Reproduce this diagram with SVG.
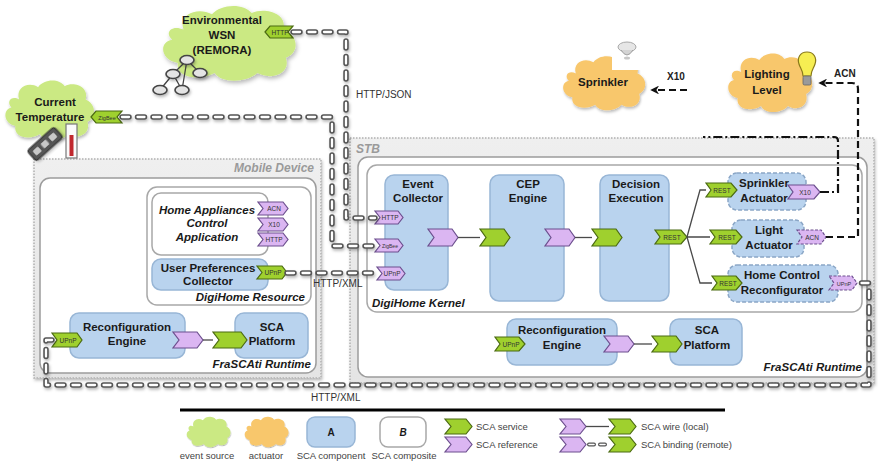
<svg xmlns="http://www.w3.org/2000/svg" xmlns:xlink="http://www.w3.org/1999/xlink" width="878" height="464" viewBox="0 0 878 464">
  <defs>
    <style>
      text { font-family: "Liberation Sans", Arial, sans-serif; }
      .t { font-size: 11.5px; font-weight: bold; fill: #1a1a1a; text-anchor: middle; }
      .ti { font-size: 11.5px; font-weight: bold; font-style: italic; fill: #1a1a1a; }
      .hdr { font-size: 12px; font-weight: bold; font-style: italic; fill: #9a9a9a; }
      .tag { font-size: 6.5px; fill: #333; text-anchor: middle; }
      .lbl { font-size: 10px; fill: #333; }
      .lblb { font-size: 10px; font-weight: bold; fill: #222; }
      .leg { font-size: 9.5px; fill: #444; }
      .cg { fill: #cbe983; }
      .co { fill: #f8c76c; }
      .comp { fill: #b9d3ee; stroke: #98b6d6; stroke-width: 1.5; }
      .compd { fill: #b9d3ee; stroke: #8aa6c6; stroke-width: 1.5; stroke-dasharray: 4 2; }
      .compo { fill: #ffffff; stroke: #a8a8a8; stroke-width: 1.5; }
      .frame { fill: #ffffff; stroke: #9c9c9c; stroke-width: 1.5; }
      .dev { fill: url(#devg); stroke: #b0b0b0; stroke-width: 1.5; stroke-dasharray: 1.5 1.5; }
      .svc { fill: #9fd02e; stroke: #4b6a12; stroke-width: 1.2; }
      .ref { fill: #dbb6f2; stroke: #6c4f8e; stroke-width: 1.2; }
      .refd { fill: #dbb6f2; stroke: #6c4f8e; stroke-width: 1.2; stroke-dasharray: 3 1.5; }
      .wire { fill: none; stroke: #4a4a4a; stroke-width: 1.3; }
      .bo { fill: none; stroke: #555; stroke-width: 5.5; stroke-dasharray: 7 8.5; stroke-linecap: round; stroke-linejoin: round; }
      .bi { fill: none; stroke: #ffffff; stroke-width: 2.3; stroke-dasharray: 7 8.5; stroke-linecap: round; stroke-linejoin: round; }
      .act { fill: none; stroke: #111; stroke-width: 2.2; stroke-dasharray: 7 4; }
      .actdd { fill: none; stroke: #111; stroke-width: 2.2; stroke-dasharray: 9 3 2 3; }
    </style>
    <linearGradient id="devg" x1="0" y1="0" x2="0" y2="1">
      <stop offset="0" stop-color="#efefef"/>
      <stop offset="1" stop-color="#e4e4e4"/>
    </linearGradient>
    <filter id="sh" x="-10%" y="-10%" width="130%" height="140%">
      <feDropShadow dx="1" dy="2" stdDeviation="1.5" flood-color="#000" flood-opacity="0.28"/>
    </filter>
    <path id="cloud" d="M18,20 C14,8 28,2 38,8 C44,0 60,-1 66,7 C76,2 92,8 88,20 C99,24 100,38 90,42 C94,54 80,60 70,54 C62,62 44,62 40,54 C30,60 12,58 14,46 C2,44 0,30 10,28 C4,22 10,16 18,20 Z"/>
    <marker id="ah" viewBox="0 0 10 10" refX="8" refY="5" markerWidth="4" markerHeight="4" orient="auto">
      <path d="M0,0 L10,5 L0,10 L3,5 Z" fill="#111"/>
    </marker>
  </defs>

  <rect width="878" height="464" fill="#ffffff"/>

  <!-- Mobile device container -->
  <g id="mobile-device">
    <rect class="dev" x="34" y="159" width="287" height="219" filter="url(#sh)"/>
    <text class="hdr" x="314" y="172" text-anchor="end">Mobile Device</text>
    <rect class="frame" x="40" y="178" width="276" height="195" rx="10"/>
    <text class="ti" x="311" y="368" text-anchor="end">FraSCAti Runtime</text>
  </g>

  <g id="digihome-resource">
    <rect class="compo" x="147" y="187" width="164" height="118" rx="10"/>
    <text class="ti" x="305" y="301" text-anchor="end">DigiHome Resource</text>
  </g>

  <g id="home-appliances">
    <rect class="compo" x="152" y="193" width="116" height="62" rx="9"/>
    <text class="ti" x="207" y="214" text-anchor="middle">Home Appliances</text>
    <text class="ti" x="207" y="227" text-anchor="middle">Control</text>
    <text class="ti" x="207" y="241" text-anchor="middle">Application</text>
    <path class="ref" d="M258,202 H283 L288,208.5 L283,215 H258 L263,208.5 Z"/>
    <text class="tag" x="274" y="211">ACN</text>
    <path class="ref" d="M258,218 H283 L288,224.5 L283,231 H258 L263,224.5 Z"/>
    <text class="tag" x="274" y="227">X10</text>
    <path class="ref" d="M258,233 H283 L288,239.5 L283,246 H258 L263,239.5 Z"/>
    <text class="tag" x="274" y="242">HTTP</text>
  </g>

  <g id="user-preferences">
    <rect class="comp" x="152" y="259" width="116" height="31" rx="9"/>
    <text class="t" x="208" y="272">User Preferences</text>
    <text class="t" x="208" y="285">Collector</text>
    <path class="svc" d="M257,266 H282 L287,272.5 L282,279 H257 L262,272.5 Z"/>
    <text class="tag" x="273" y="275">UPnP</text>
  </g>

  <g id="mobile-reconfiguration-engine">
    <rect class="comp" x="70" y="313" width="115" height="45" rx="9"/>
    <text class="t" x="127" y="331">Reconfiguration</text>
    <text class="t" x="127" y="345">Engine</text>
    <path class="svc" d="M52,333 H77 L82,340 L77,347 H52 L57,340 Z"/>
    <text class="tag" x="68" y="342.5">UPnP</text>
    <path class="ref" d="M173,332 H197 L203,340 L197,348 H173 L179,340 Z"/>
  </g>

  <g id="mobile-sca-platform">
    <rect class="comp" x="235" y="313" width="73" height="45" rx="9"/>
    <text class="t" x="272" y="331">SCA</text>
    <text class="t" x="272" y="345">Platform</text>
    <path class="svc" d="M213,332 H241 L247,340 L241,348 H213 L219,340 Z"/>
  </g>

  <!-- Set-top box container -->
  <g id="stb">
    <rect class="dev" x="350" y="138" width="524" height="245" filter="url(#sh)"/>
    <text class="hdr" x="356" y="153">STB</text>
    <rect class="frame" x="358" y="157" width="509" height="220" rx="10"/>
    <text class="ti" x="862" y="371" text-anchor="end">FraSCAti Runtime</text>
  </g>

  <g id="digihome-kernel">
    <rect class="compo" x="367" y="165" width="495" height="147" rx="10"/>
    <text class="ti" x="372" y="307">DigiHome Kernel</text>
  </g>

  <g id="event-collector">
    <rect class="comp" x="385" y="175" width="63" height="115" rx="9"/>
    <text class="t" x="418" y="188">Event</text>
    <text class="t" x="418" y="202">Collector</text>
    <path class="ref" d="M375,211 H398 L403,217.5 L398,224 H375 L380,217.5 Z"/>
    <text class="tag" x="390" y="220">HTTP</text>
    <path class="ref" d="M375,239 H398 L403,245.5 L398,252 H375 L380,245.5 Z"/>
    <text class="tag" x="390" y="248" style="font-size:5px">ZigBee</text>
    <path class="ref" d="M377,267 H400 L405,273.5 L400,280 H377 L382,273.5 Z"/>
    <text class="tag" x="392" y="276">UPnP</text>
    <path class="ref" d="M428,229 H452 L458,237.5 L452,246 H428 L434,237.5 Z"/>
  </g>

  <g id="cep-engine">
    <rect class="comp" x="490" y="175" width="74" height="126" rx="9"/>
    <text class="t" x="528" y="188">CEP</text>
    <text class="t" x="528" y="202">Engine</text>
    <path class="svc" d="M480,229 H504 L510,237.5 L504,246 H480 L486,237.5 Z"/>
    <path class="ref" d="M545,229 H569 L575,237.5 L569,246 H545 L551,237.5 Z"/>
  </g>

  <g id="decision-execution">
    <rect class="comp" x="600" y="175" width="69" height="126" rx="9"/>
    <text class="t" x="636" y="188">Decision</text>
    <text class="t" x="636" y="202">Execution</text>
    <path class="svc" d="M592,229 H616 L622,237.5 L616,246 H592 L598,237.5 Z"/>
    <path class="svc" d="M655,230 H681 L687,237 L681,244 H655 L660,237 Z"/>
    <text class="tag" x="672" y="239.5">REST</text>
  </g>

  <g id="sprinkler-actuator">
    <rect class="compd" x="728" y="173" width="78" height="37" rx="9"/>
    <text class="t" x="764" y="187">Sprinkler</text>
    <text class="t" x="764" y="202">Actuator</text>
    <path class="svc" d="M706,183 H731 L737,190 L731,197 H706 L711,190 Z"/>
    <text class="tag" x="722" y="192.5">REST</text>
    <path class="ref" d="M788,185 H814 L820,192 L814,199 H788 L793,192 Z"/>
    <text class="tag" x="805" y="194.5">X10</text>
  </g>

  <g id="light-actuator">
    <rect class="compd" x="732" y="220" width="72" height="37" rx="9"/>
    <text class="t" x="769" y="234">Light</text>
    <text class="t" x="769" y="249">Actuator</text>
    <path class="svc" d="M710,230 H736 L742,237 L736,244 H710 L715,237 Z"/>
    <text class="tag" x="727" y="239.5">REST</text>
    <path class="refd" d="M797,230 H821 L826,237 L821,244 H797 L802,237 Z"/>
    <text class="tag" x="812" y="239.5">ACN</text>
  </g>

  <g id="home-control-reconfigurator">
    <rect class="compd" x="728" y="265" width="110" height="37" rx="9"/>
    <text class="t" x="782" y="279">Home Control</text>
    <text class="t" x="782" y="294">Reconfigurator</text>
    <path class="svc" d="M712,276 H736 L742,283 L736,290 H712 L717,283 Z"/>
    <text class="tag" x="728" y="285.5">REST</text>
    <path class="refd" d="M829,276 H852 L857,283 L852,290 H829 L834,283 Z"/>
    <text class="tag" x="844" y="285.5" style="font-size:5.5px">UPnP</text>
  </g>

  <g id="stb-reconfiguration-engine">
    <rect class="comp" x="507" y="319" width="110" height="46" rx="9"/>
    <text class="t" x="562" y="334">Reconfiguration</text>
    <text class="t" x="562" y="349">Engine</text>
    <path class="svc" d="M495,337 H519 L525,344 L519,351 H495 L500,344 Z"/>
    <text class="tag" x="511" y="346.5">UPnP</text>
    <path class="ref" d="M604,336 H628 L634,344 L628,352 H604 L610,344 Z"/>
  </g>

  <g id="stb-sca-platform">
    <rect class="comp" x="670" y="319" width="72" height="46" rx="9"/>
    <text class="t" x="707" y="334">SCA</text>
    <text class="t" x="707" y="349">Platform</text>
    <path class="svc" d="M652,336 H676 L682,344 L676,352 H652 L658,344 Z"/>
  </g>

  <!-- Event sources -->
  <g id="environmental-wsn">
    <use xlink:href="#cloud" href="#cloud" class="cg" filter="url(#sh)" transform="translate(158,4) scale(1.42,1.28)"/>
    <text class="t" x="222" y="24">Environmental</text>
    <text class="t" x="222" y="39">WSN</text>
    <text class="t" x="222" y="54">(REMORA)</text>
    <g stroke="#444" stroke-width="1.3" fill="none">
      <path d="M187,60 L173,74 L160,90 M173,74 L182,90 M187,60 L200,73 M187,60 L182,90"/>
    </g>
    <g fill="#e4e4e4" stroke="#444" stroke-width="1.6" filter="url(#sh)">
      <ellipse cx="187" cy="60" rx="7" ry="4.5"/>
      <ellipse cx="173" cy="74" rx="7" ry="4.5"/>
      <ellipse cx="200" cy="73" rx="7" ry="4.5"/>
      <ellipse cx="160" cy="90" rx="7" ry="4.5"/>
      <ellipse cx="182" cy="90" rx="7" ry="4.5"/>
    </g>
    <path class="svc" d="M265,32 L270,26 H293 L288,32 L293,38 H270 Z"/>
    <text class="tag" x="280" y="34.5">HTTP</text>
  </g>

  <g id="current-temperature">
    <use xlink:href="#cloud" href="#cloud" class="cg" filter="url(#sh)" transform="translate(2,79) scale(0.95,1.02)"/>
    <text class="t" x="55" y="106">Current</text>
    <text class="t" x="50" y="121">Temperature</text>
    <path class="svc" d="M91,117 L96,111 H122 L117,117 L122,123 H96 Z"/>
    <text class="tag" x="107" y="119.5" style="font-size:5.5px">ZigBee</text>
    <g transform="rotate(-42 45 144)" filter="url(#sh)">
      <rect x="27" y="137" width="36" height="14" rx="3" fill="#555" stroke="#2e2e2e" stroke-width="1.2"/>
      <rect x="31" y="141" width="7" height="6" rx="1" fill="#c8c8c8"/>
      <rect x="41.5" y="141" width="7" height="6" rx="1" fill="#c8c8c8"/>
      <rect x="52" y="141" width="7" height="6" rx="1" fill="#c8c8c8"/>
    </g>
    <rect x="66" y="124" width="11" height="34" fill="#fafafa" stroke="#777" stroke-width="1.2"/>
    <rect x="69.5" y="135" width="4" height="21" fill="#c0282e"/>
  </g>

  <!-- Actuators -->
  <g id="sprinkler">
    <use xlink:href="#cloud" href="#cloud" class="co" filter="url(#sh)" transform="translate(560,55) scale(0.88,0.92)"/>
    <rect x="612" y="40" width="32" height="30" fill="#ffffff"/>
    <ellipse cx="627" cy="47" rx="9" ry="5" fill="#e6e6e6" stroke="#a8a8a8"/>
    <path d="M621,50 Q627,60 633,50" fill="#d4d4d4" stroke="#a0a0a0"/>
    <ellipse cx="627" cy="58" rx="3" ry="1.5" fill="#c8c8c8"/>
    <text class="t" x="603" y="86">Sprinkler</text>
  </g>

  <g id="lighting-level">
    <use xlink:href="#cloud" href="#cloud" class="co" filter="url(#sh)" transform="translate(725,52) scale(0.9,1.0)"/>
    <text class="t" x="767" y="78">Lighting</text>
    <text class="t" x="767" y="94">Level</text>
    <path d="M807,52 C800,52 797,58 799,64 C800,68 803,70 803,76 H811 C811,70 814,68 815,64 C817,58 814,52 807,52 Z" fill="#f6ee52" stroke="#8a7a1a" stroke-width="1.2"/>
    <rect x="803" y="76" width="8" height="9" rx="1.5" fill="#9a9a9a" stroke="#666" stroke-width="0.8"/>
  </g>

  <!-- Connectors: remote bindings, local wires, actuator links -->
  <g id="connectors">
    <g filter="url(#sh)">
      <path class="bo" d="M293,32 H346 V218 H375"/>
      <path class="bo" d="M122,117 H332 V246 H375"/>
      <path class="bo" d="M287,273 H377"/>
      <path class="bo" d="M52,340 H46 V385 H869 V283 H857"/>
    </g>
    <path class="bi" d="M293,32 H346 V218 H375"/>
    <path class="bi" d="M122,117 H332 V246 H375"/>
    <path class="bi" d="M287,273 H377"/>
    <path class="bi" d="M52,340 H46 V385 H869 V283 H857"/>

    <path class="wire" d="M203,340 H213"/>
    <path class="wire" d="M458,237.5 H480"/>
    <path class="wire" d="M575,237.5 H592"/>
    <path class="wire" d="M687,237 L700,190 H706 M687,237 H710 M687,237 L700,283 H712"/>
    <path class="wire" d="M634,344 H652"/>

    <path class="actdd" d="M820,192 H838 V141 Q838,137 834,137 H703"/>
    <path class="act" d="M826,237 H858 V89 Q858,83 852,83 H820" marker-end="url(#ah)"/>
    <path class="act" d="M687,90 H652" marker-end="url(#ah)"/>

    <text class="lbl" x="356" y="98">HTTP/JSON</text>
    <text class="lbl" x="313" y="287">HTTP/XML</text>
    <text class="lbl" x="311" y="401">HTTP/XML</text>
    <text class="lblb" x="667" y="80">X10</text>
    <text class="lblb" x="834" y="77">ACN</text>
  </g>

  <!-- Legend -->
  <g id="legend">
    <path d="M180,410 H725" stroke="#000" stroke-width="3"/>
    <use xlink:href="#cloud" href="#cloud" class="cg" filter="url(#sh)" transform="translate(185,416) scale(0.47,0.52)"/>
    <use xlink:href="#cloud" href="#cloud" class="co" filter="url(#sh)" transform="translate(243,416) scale(0.47,0.52)"/>
    <rect class="comp" x="307" y="417" width="48" height="30" rx="8"/>
    <text class="t" x="331" y="436" style="font-size:10px">A</text>
    <rect class="compo" x="380" y="417" width="46" height="30" rx="8"/>
    <text class="ti" x="403" y="436" text-anchor="middle" style="font-size:10px">B</text>
    <text class="leg" x="207" y="459" text-anchor="middle">event source</text>
    <text class="leg" x="266" y="459" text-anchor="middle">actuator</text>
    <text class="leg" x="331" y="459" text-anchor="middle">SCA component</text>
    <text class="leg" x="404" y="459" text-anchor="middle">SCA composite</text>

    <path class="svc" d="M445,419 H466 L472,426.5 L466,434 H445 L451,426.5 Z"/>
    <text class="leg" x="476" y="430">SCA service</text>
    <path class="ref" d="M445,437 H466 L472,444.5 L466,452 H445 L451,444.5 Z"/>
    <text class="leg" x="476" y="448">SCA reference</text>

    <path class="ref" d="M560,419 H580 L586,426.5 L580,434 H560 L566,426.5 Z"/>
    <path class="wire" d="M586,426.5 H609"/>
    <path class="svc" d="M609,419 H630 L636,426.5 L630,434 H609 L615,426.5 Z"/>
    <text class="leg" x="641" y="430">SCA wire (local)</text>

    <path class="ref" d="M560,437 H580 L586,444.5 L580,452 H560 L566,444.5 Z"/>
    <path class="bo" d="M589,444.5 H606" style="stroke-width:4;stroke-dasharray:5 6"/>
    <path class="bi" d="M589,444.5 H606" style="stroke-width:1.6;stroke-dasharray:5 6"/>
    <path class="svc" d="M609,437 H630 L636,444.5 L630,452 H609 L615,444.5 Z"/>
    <text class="leg" x="641" y="448">SCA binding (remote)</text>
  </g>
</svg>
